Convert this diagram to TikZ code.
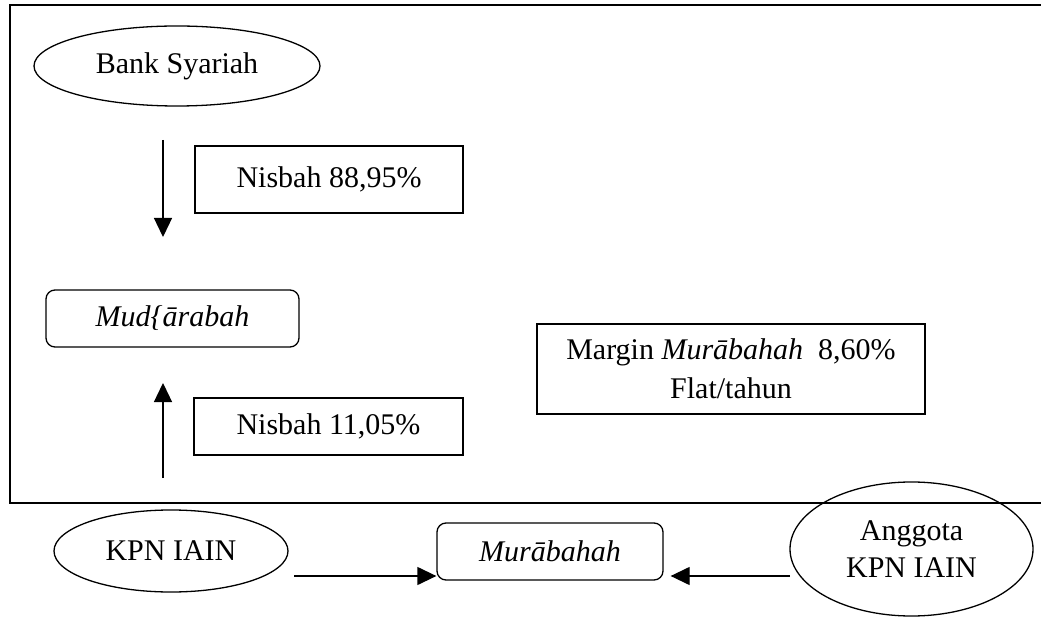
\documentclass[tikz,border=0pt]{standalone}
\usepackage{fontspec}
\setmainfont{Liberation Serif}
\usetikzlibrary{shapes.geometric,arrows.meta}
\begin{document}
\begin{tikzpicture}[x=1pt,y=-1pt,
  every node/.style={font=\fontsize{30}{35}\selectfont, inner sep=0pt},
  ell/.style={draw, ellipse, line width=1.3pt},
  sqbox/.style={draw, rectangle, line width=1.3pt},
  rbox/.style={draw, rectangle, rounded corners=9pt, line width=1.3pt},
  conn/.style={line width=1.3pt, -{Triangle[length=19pt,width=18pt]}}]
\useasboundingbox (0,0) rectangle (1041,617);
\draw[line width=1.5pt] (1041,5) -- (10,5) -- (10,503) -- (1041,503);
\node[ell, minimum width=286, minimum height=80] (bank) at (177,66) {Bank Syariah};
\node[sqbox, minimum width=268, minimum height=67] (n1) at (329,179.5) {Nisbah 88,95\%};
\node[rbox, minimum width=253, minimum height=57] (mud) at (172.5,318.5) {\itshape Mud\{ārabah};
\node[sqbox, minimum width=269, minimum height=57] (n2) at (328.5,426.5) {Nisbah 11,05\%};
\node[sqbox, minimum width=388, minimum height=90, align=center] (mar) at (731,369)
  {Margin \textit{Murābahah}\ \ 8,60\%\\[4pt]Flat/tahun};
\node[ell, minimum width=234, minimum height=82] (kpn) at (171,551) {KPN IAIN};
\node[rbox, minimum width=226, minimum height=57] (mur) at (550,551.5) {\itshape Murābahah};
\node[ell, minimum width=243, minimum height=134, align=center] (ang) at (911.5,549)
  {Anggota\\[2pt]KPN IAIN};
\coordinate (d1) at (163,140);
\coordinate (d2) at (163,237);
\coordinate (u1) at (163,478);
\coordinate (u2) at (163,383);
\coordinate (k1) at (294,576);
\coordinate (a1) at (790,576);
\draw[conn] (d1) -- (d2);
\draw[conn] (u1) -- (u2);
\draw[conn] (k1) -- (mur.west |- k1);
\draw[conn] (a1) -- ([xshift=7pt]mur.east |- a1);
\end{tikzpicture}
\end{document}
